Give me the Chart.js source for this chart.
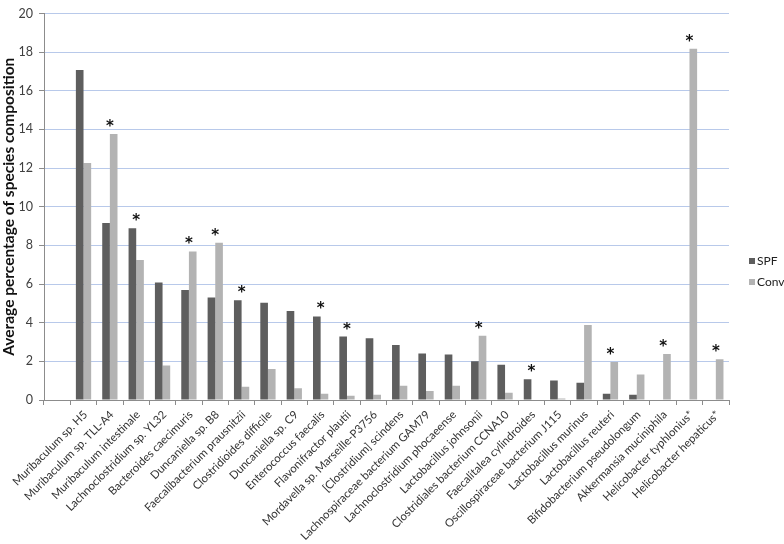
<!DOCTYPE html>
<html>
<head>
<meta charset="utf-8">
<script src="https://cdn.jsdelivr.net/npm/chart.js@4"></script>
<style>
    body { margin: 0; background: white; }
</style>
</head>
<body>
<canvas id="speciesChart" width="784" height="544"></canvas>
<script>
const categories = [
    "",
    "Muribaculum sp. H5",
    "Muribaculum sp. TLL-A4",
    "Muribaculum intestinale",
    "Lachnoclostridium sp. YL32",
    "Bacteroides caecimuris",
    "Duncaniella sp. B8",
    "Faecalibacterium prausnitzii",
    "Clostridioides difficile",
    "Duncaniella sp. C9",
    "Enterococcus faecalis",
    "Flavonifractor plautii",
    "Mordavella sp. Marseille-P3756",
    "[Clostridium] scindens",
    "Lachnospiraceae bacterium GAM79",
    "Lachnoclostridium phocaeense",
    "Lactobacillus johnsonii",
    "Clostridiales bacterium CCNA10",
    "Faecalitalea cylindroides",
    "Oscillospiraceae bacterium J115",
    "Lactobacillus murinus",
    "Lactobacillus reuteri",
    "Bifidobacterium pseudolongum",
    "Akkermansia muciniphila",
    "Helicobacter typhlonius*",
    "Helicobacter hepaticus*"
];

const spf = [null, 17.07, 9.16, 8.89, 6.08, 5.69, 5.30, 5.16, 5.03, 4.61, 4.32, 3.28, 3.19,
    2.85, 2.40, 2.35, 2.01, 1.82, 1.08, 1.01, 0.89, 0.32, 0.27, null, null, null];

const conv = [null, 12.27, 13.76, 7.24, 1.79, 7.68, 8.14, 0.69, 1.60, 0.61, 0.32, 0.22, 0.27,
    0.74, 0.46, 0.74, 3.32, 0.37, null, 0.08, 3.88, 1.96, 1.32, 2.38, 18.18, 2.11];

// significance marks, one per category
const significant = [false, false, true, true, false, true, true, true, false, false, true, true, false,
    false, false, false, true, false, true, false, false, true, false, true, true, true];

const yTicks = [0, 2, 4, 6, 8, 10, 12, 14, 16, 18, 20];

const spfColor = "#5e5e5e";
const convColor = "#b3b3b3";

// asterisk above the taller bar of each pair
const starPlugin = {
    id: "stars",
    afterDatasetsDraw(chart) {
        const c = chart.ctx;
        const x = chart.scales.x;
        const y = chart.scales.y;
        c.save();
        c.fillStyle = "#111";
        c.font = "bold 15px 'DejaVu Sans'";
        c.textAlign = "center";
        c.textBaseline = "middle";
        significant.forEach((s, i) => {
            if (!s) return;
            const top = Math.max(spf[i] || 0, conv[i] || 0);
            c.fillText("*", x.getPixelForValue(i), y.getPixelForValue(top) - 7);
        });
        c.restore();
    }
};

// legend drawn at the right edge, next to the plot
const legendPlugin = {
    id: "sideLegend",
    afterDraw(chart) {
        const c = chart.ctx;
        const left = chart.chartArea.right + 20;
        const items = [["SPF", spfColor, 261], ["Conv", convColor, 282]];
        c.save();
        c.font = "12px Lato";
        c.textBaseline = "middle";
        items.forEach(([name, color, yy]) => {
            c.fillStyle = color;
            c.fillRect(left, yy - 3, 6, 6);
            c.fillStyle = "#222";
            c.fillText(name, left + 8, yy);
        });
        c.restore();
    }
};

const ctx = document.getElementById("speciesChart");

const chart = new Chart(ctx, {
    type: "bar",
    data: {
        labels: categories,
        datasets: [
            {
                label: "SPF",
                data: spf,
                backgroundColor: spfColor
            },
            {
                label: "Conv",
                data: conv,
                backgroundColor: convColor
            }
        ]
    },
    options: {
        responsive: false,
        animation: false,
        categoryPercentage: 0.58,
        barPercentage: 1.0,
        layout: {
            padding: { top: 5, right: 55, left: 0, bottom: 0 }
        },
        plugins: {
            legend: { display: false },
            tooltip: { enabled: false }
        },
        scales: {
            x: {
                grid: {
                    drawOnChartArea: false,
                    color: "#8c8c8c",
                    tickLength: 5
                },
                border: { color: "#8c8c8c" },
                ticks: {
                    minRotation: 45,
                    maxRotation: 45,
                    autoSkip: false,
                    color: "#333",
                    labelOffset: 2,
                    font: { family: "Lato", size: 11.3 }
                },
                afterFit(scale) {
                    scale.height = 144;
                }
            },
            y: {
                min: 0,
                max: 20,
                afterBuildTicks(scale) {
                    scale.ticks = yTicks.map(v => ({ value: v }));
                },
                grid: {
                    color: "#b8c9ea",
                    tickColor: "#8c8c8c",
                    tickLength: 5
                },
                border: { color: "#8c8c8c" },
                ticks: {
                    color: "#404040",
                    padding: 6,
                    font: { family: "Lato", size: 12.5 }
                },
                title: {
                    display: true,
                    text: "Average percentage of species composition",
                    color: "#111",
                    padding: { top: 0, bottom: 0 },
                    font: { family: "Lato", size: 15.5, weight: "bold" }
                },
                afterFit(scale) {
                    scale.width = 44;
                }
            }
        }
    },
    plugins: [starPlugin, legendPlugin]
});
</script>
</body>
</html>
